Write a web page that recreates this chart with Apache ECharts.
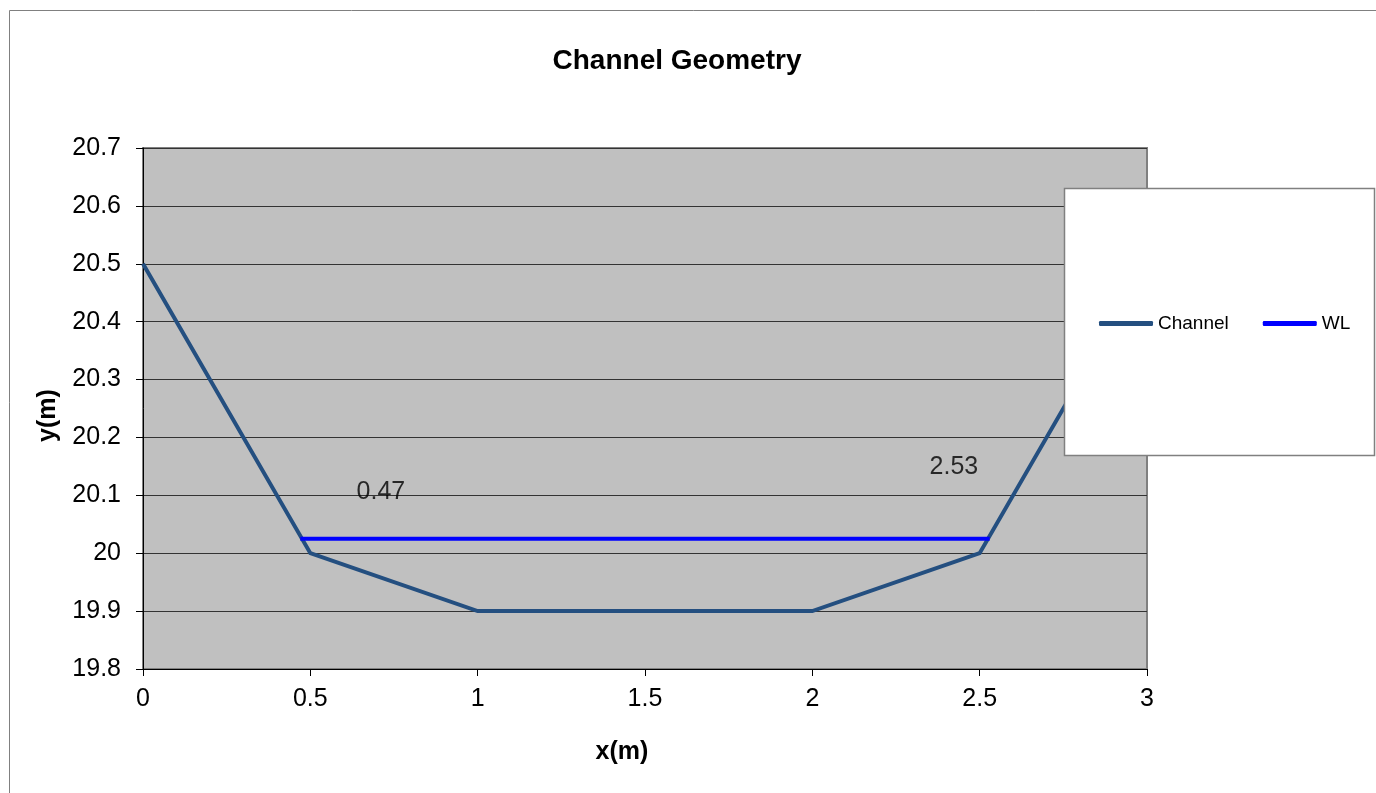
<!DOCTYPE html>
<html>
<head>
<meta charset="utf-8">
<script src="https://cdn.jsdelivr.net/npm/echarts@6/dist/echarts.min.js"></script>
<style>
html,body{margin:0;padding:0;background:#fff;}
#chart{width:1376px;height:793px;}
</style>
</head>
<body>
<div id="chart"></div>
<script>
const channelX = [0, 0.5, 1, 2, 2.5, 3];
const channelY = [20.5, 20.0, 19.9, 19.9, 20.0, 20.5];
const wlX = [0.47, 2.53];
const wlY = [20.025, 20.025];
const labelTexts = ['0.47', '2.53'];
const labelX = [0.711, 2.423];
const labelY = [20.105, 20.148];

const chart = echarts.init(document.getElementById('chart'));
const font = 'Liberation Sans, Arial, sans-serif';

chart.setOption({
  animation: false,
  backgroundColor: '#ffffff',
  title: {
    text: 'Channel Geometry',
    left: 677, top: 47, textAlign: 'center', padding: 0,
    textStyle: {fontFamily: font, fontSize: 28, fontWeight: 'bold', color: '#000'}
  },
  grid: {
    left: 143, right: 229, top: 148, bottom: 124,
    show: true, backgroundColor: '#c0c0c0', borderColor: '#808080', borderWidth: 2
  },
  legend: {
    left: 1099, top: 314, z: 20, padding: 0,
    itemGap: 34, itemWidth: 54, itemHeight: 5, icon: 'roundRect',
    textStyle: {fontFamily: font, fontSize: 19, color: '#000'},
    data: ['Channel', 'WL']
  },
  xAxis: {
    type: 'value', min: 0, max: 3, interval: 0.5,
    name: 'x(m)', nameLocation: 'middle', nameGap: 71,
    nameTextStyle: {fontFamily: font, fontSize: 25, fontWeight: 'bold', color: '#000', padding: [0, 46, 0, 0]},
    axisLine: {show: true, onZero: false, lineStyle: {color: '#000', width: 1}},
    axisTick: {show: true, length: 7, lineStyle: {color: '#000'}},
    axisLabel: {fontFamily: font, fontSize: 25, color: '#000', margin: 18},
    splitLine: {show: false}
  },
  yAxis: {
    type: 'value', min: 19.8, max: 20.7, interval: 0.1,
    name: 'y(m)', nameLocation: 'middle', nameGap: 82, nameRotate: 90,
    nameTextStyle: {fontFamily: font, fontSize: 25, fontWeight: 'bold', color: '#000', padding: [0, 14, 0, 0]},
    axisLine: {show: true, onZero: false, lineStyle: {color: '#000', width: 1}},
    axisTick: {show: true, length: 7, lineStyle: {color: '#000'}},
    axisLabel: {fontFamily: font, fontSize: 25, color: '#000', margin: 22,
      formatter: v => String(+v.toFixed(1))},
    splitLine: {show: true, lineStyle: {color: '#333', width: 1}}
  },
  graphic: [
    {type: 'rect', shape: {x: 9.5, y: 10.5, width: 1400, height: 800},
     style: {fill: 'none', stroke: '#808080', lineWidth: 1}, z: 0, silent: true},
    {type: 'rect', shape: {x: 1064.5, y: 188.5, width: 310, height: 267},
     style: {fill: '#ffffff', stroke: '#808080', lineWidth: 1.5}, z: 15, silent: true}
  ],
  series: [
    {
      name: 'Channel', type: 'line', showSymbol: false, symbol: 'none',
      lineStyle: {color: '#244f80', width: 4, join: 'miter'},
      itemStyle: {color: '#244f80'},
      data: channelX.map((x, i) => [x, channelY[i]]), z: 3
    },
    {
      name: 'WL', type: 'line', showSymbol: false, symbol: 'none',
      lineStyle: {color: '#0000ff', width: 4},
      itemStyle: {color: '#0000ff'},
      data: wlX.map((x, i) => [x, wlY[i]]), z: 4
    },
    {
      name: 'labels', type: 'scatter', symbolSize: 0, silent: true,
      label: {show: true, position: 'inside', fontFamily: font, fontSize: 25, color: '#000',
        formatter: p => labelTexts[p.dataIndex]},
      data: labelX.map((x, i) => [x, labelY[i]]), z: 5
    }
  ]
});
</script>
</body>
</html>
